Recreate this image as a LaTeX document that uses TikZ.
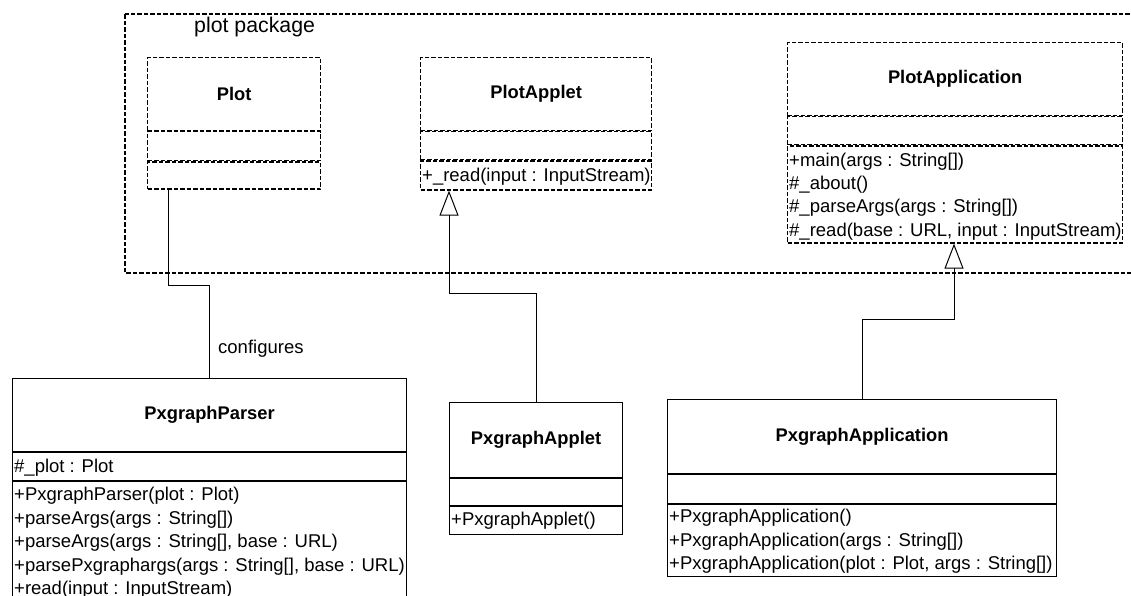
\documentclass[tikz,border=0pt]{standalone}
\usepackage{fontspec}
\setmainfont{Liberation Sans}
\usepackage{tikz}
\usetikzlibrary{arrows.meta}
\usetikzlibrary{calc}

\begin{document}
\begin{tikzpicture}[x=1pt,y=-1pt,
    pkgline/.style={draw,dash pattern=on 4.5pt off 2pt,line width=1.2pt},
    solidline/.style={draw,line width=1.1pt},
    box/.style={rectangle,inner sep=0pt,anchor=north west},
    clsname/.style={box,font=\fontsize{18.3}{22}\selectfont\bfseries},
    ops/.style={anchor=north west,inner sep=0pt,align=left,font=\fontsize{18.5}{23.4}\selectfont},
    inherit/.style={line width=1pt,-{Triangle[open,length=25pt,width=19pt]}},
    assoc/.style={line width=1pt}]
    \clip (0,0) rectangle (1131,595);
    \fill[white] (0,0) rectangle (1131,595);

    % package frame
    \draw[pkgline] (125,14) rectangle (1145,273);
    \node[anchor=base west,inner sep=0pt,font=\fontsize{21.3}{25}\selectfont] (pkglabel) at (194,32) {plot package};

    % Plot
    \node[clsname,pkgline,minimum width=173pt,minimum height=73pt] (plotN) at (147,57) {Plot};
    \node[box,pkgline,minimum width=173pt,minimum height=29pt] (plotA) at (plotN.south west) {};
    \node[box,pkgline,minimum width=173pt,minimum height=27pt] (plotM) at (plotA.south west) {};

    % PlotApplet
    \node[clsname,pkgline,minimum width=231pt,minimum height=73pt] (paN) at (420,57) {PlotApplet};
    \node[box,pkgline,minimum width=231pt,minimum height=28pt] (paA) at (paN.south west) {};
    \node[box,pkgline,minimum width=231pt,minimum height=29pt] (paM) at (paA.south west) {};
    \node[ops] (paOps) at ([xshift=2pt,yshift=-7pt]paM.north west) {+\_read(input : InputStream)};

    % PlotApplication
    \node[clsname,pkgline,minimum width=335pt,minimum height=73pt] (pappN) at (787,42) {PlotApplication};
    \node[box,pkgline,minimum width=335pt,minimum height=28pt] (pappA) at (pappN.south west) {};
    \node[box,pkgline,minimum width=335pt,minimum height=97pt] (pappM) at (pappA.south west) {};
    \node[ops] (pappOps) at ([xshift=2pt,yshift=-7pt]pappM.north west)
        {+main(args : String[])\\\#\_about()\\\#\_parseArgs(args : String[])\\\#\_read(base : URL, input : InputStream)};

    % PxgraphParser
    \node[clsname,solidline,minimum width=394pt,minimum height=73pt] (pxpN) at (12,378) {PxgraphParser};
    \node[box,solidline,minimum width=394pt,minimum height=28pt] (pxpA) at (pxpN.south west) {};
    \node[box,solidline,minimum width=394pt,minimum height=140pt] (pxpM) at (pxpA.south west) {};
    \node[ops] (pxpAtt) at ([xshift=2pt,yshift=-7pt]pxpA.north west) {\#\_plot : Plot};
    \node[ops] (pxpOps) at ([xshift=2pt,yshift=-6pt]pxpM.north west)
        {+PxgraphParser(plot : Plot)\\+parseArgs(args : String[])\\+parseArgs(args : String[], base : URL)\\+parsePxgraphargs(args : String[], base : URL)\\+read(input : InputStream)};

    % PxgraphApplet
    \node[clsname,solidline,minimum width=173pt,minimum height=75pt] (pxaN) at (449,402) {PxgraphApplet};
    \node[box,solidline,minimum width=173pt,minimum height=27pt] (pxaA) at (pxaN.south west) {};
    \node[box,solidline,minimum width=173pt,minimum height=28pt] (pxaM) at (pxaA.south west) {};
    \node[ops] (pxaOps) at ([xshift=2pt,yshift=-6pt]pxaM.north west) {+PxgraphApplet()};

    % PxgraphApplication
    \node[clsname,solidline,minimum width=389pt,minimum height=74pt] (pxappN) at (667,399) {PxgraphApplication};
    \node[box,solidline,minimum width=389pt,minimum height=29pt] (pxappA) at (pxappN.south west) {};
    \node[box,solidline,minimum width=389pt,minimum height=72pt] (pxappM) at (pxappA.south west) {};
    \node[ops] (pxappOps) at ([xshift=2pt,yshift=-5pt]pxappM.north west)
        {+PxgraphApplication()\\+PxgraphApplication(args : String[])\\+PxgraphApplication(plot : Plot, args : String[])};

    % connectors
    \draw[assoc] ([xshift=21pt]plotM.south west) -- ++(0,96) -| ([xshift=197pt]pxpN.north west);
    \node[anchor=base west,inner sep=0pt,font=\fontsize{18.5}{22}\selectfont] (cfg) at (218,353) {configures};
    \draw[inherit] ([xshift=87pt]pxaN.north west) -- ++(0,-109) -| ([xshift=29pt]paM.south west);
    \draw[inherit] ([xshift=195pt]pxappN.north west) -- ++(0,-80) -| ([xshift=167pt]pappM.south west);
\end{tikzpicture}
\end{document}
